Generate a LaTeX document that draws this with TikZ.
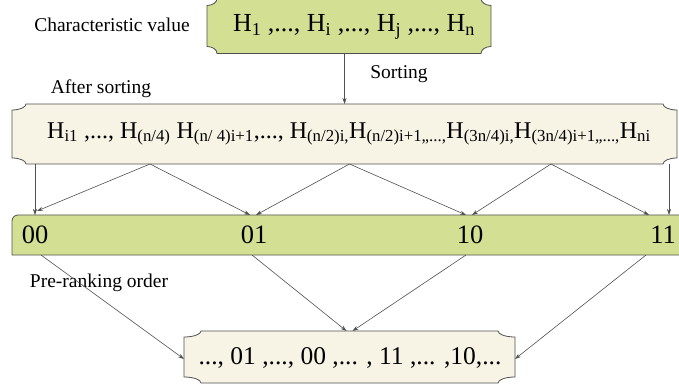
\documentclass[tikz,border=0pt]{standalone}
\usepackage{fontspec}
\setmainfont{Liberation Serif}
\usetikzlibrary{arrows.meta,calc}
\pgfdeclarelayer{bg}
\pgfsetlayers{bg,main}
\definecolor{leaf}{RGB}{211,224,148}
\definecolor{cream}{RGB}{247,243,229}
\definecolor{edge}{RGB}{80,80,80}
\newcommand\sbs[1]{\textsubscript{#1}}
% plaque outline around a node: #1 node, #2/#3 corner radii (pt), #4 fill
\newcommand\plaque[4]{%
  \path[draw=edge, fill=#4, line width=0.8pt]
    let \p1=(#1.north west), \p2=(#1.south east) in
    (\x1+#2pt,\y1) -- (\x2-#2pt,\y1)
    arc[start angle=180, end angle=270, x radius=#2pt, y radius=#3pt]
    -- (\x2,\y2+#3pt)
    arc[start angle=90, end angle=180, x radius=#2pt, y radius=#3pt]
    -- (\x1+#2pt,\y2)
    arc[start angle=0, end angle=90, x radius=#2pt, y radius=#3pt]
    -- (\x1,\y1-#3pt)
    arc[start angle=270, end angle=360, x radius=#2pt, y radius=#3pt]
    -- cycle;}
\begin{document}
\begin{tikzpicture}[x=1pt, y=1pt,
  holder/.style={inner sep=0pt, outer sep=0pt},
  label/.style={inner sep=0pt, font=\fontsize{19.5}{22}\selectfont},
  big/.style={inner sep=0pt, font=\fontsize{26}{30}\selectfont},
  row/.style={inner sep=0pt, font=\fontsize{24}{28}\selectfont},
  bits/.style={inner sep=0pt, font=\fontsize{26.5}{30}\selectfont},
  link/.style={draw=edge, line width=0.6pt, -{Stealth[length=6pt, width=4pt]}}]
\useasboundingbox (0,0) rectangle (679,-387);
\clip (0,0) rectangle (679,-387);

% boxes
\node[holder, minimum width=284pt, minimum height=55pt] (chars) at (349,-26) {};
\node[holder, minimum width=665pt, minimum height=60pt] (sorted) at (344.5,-134) {};
\node[holder, minimum width=680pt, minimum height=40pt] (bar) at (352,-235) {};
\node[holder, minimum width=331pt, minimum height=52pt] (result) at (349.5,-357) {};

% box contents
\node[big] (charstext) at (354,-27)
  {H\sbs{1} ,..., H\sbs{i} ,..., H\sbs{j} ,..., H\sbs{n}};
\node[row] (sortedtext) at (349,-134)
  {H\sbs{i1} ,..., H\sbs{(n/4)} H\sbs{(n/ 4)i+1},..., H\sbs{(n/2)i,}H\sbs{(n/2)i+1,,...,}H\sbs{(3n/4)i,}H\sbs{(3n/4)i+1,,...,}H\sbs{ni}};
\node[big, font=\fontsize{25.5}{30}\selectfont] (resulttext) at (350,-358)
  {..., 01 ,..., 00 ,... , 11 ,... ,10,...};

% bit labels in the bar
\node[bits] (b00) at (35,-235) {00};
\node[bits] (b01) at (254,-235) {01};
\node[bits] (b10) at (470,-235) {10};
\node[bits] (b11) at (663,-235) {11};

% captions
\node[label] (cv) at (112,-25) {Characteristic value};
\node[label] (srt) at (399,-74) {Sorting};
\node[label] (aft) at (101,-89) {After sorting};
\node[label] (pre) at (99,-283) {Pre-ranking order};

\begin{pgfonlayer}{bg}
  \plaque{chars}{10}{7}{leaf}
  \plaque{sorted}{14}{6}{cream}
  \plaque{result}{17}{6}{cream}
  \path[draw=edge, fill=leaf, line width=0.8pt]
    (bar.south east) -- (bar.south west) -- ([yshift=-6pt]bar.north west)
    arc[start angle=180, end angle=90, radius=6pt] -- (bar.north east);
\end{pgfonlayer}

% split points on the sorted row
\coordinate (q1) at ($(sorted.south west)!0.2075!(sorted.south east)$);
\coordinate (q2) at ($(sorted.south west)!0.5075!(sorted.south east)$);
\coordinate (q3) at ($(sorted.south west)!0.8105!(sorted.south east)$);

\draw[link] (chars.south -| sorted.north) -- (sorted.north);
\draw[link] (sorted.south -| b00) -- (b00 |- bar.north);
\draw[link] (q1) -- ([xshift=2pt, yshift=4pt]b00 |- bar.north);
\draw[link] (q1) -- ([xshift=-4pt]b01 |- bar.north);
\draw[link] (q2) -- ([xshift=2pt]b01 |- bar.north);
\draw[link] (q2) -- ([xshift=-4pt]b10 |- bar.north);
\draw[link] (q3) -- ([xshift=2pt]b10 |- bar.north);
\draw[link] (q3) -- ([xshift=-14pt]b11 |- bar.north);
\draw[link] ([xshift=-8pt]sorted.south east) -- ([xshift=-8pt]sorted.south east |- bar.north);

\draw[link] ([xshift=6pt]b00 |- bar.south) -- ([yshift=-2pt]result.west);
\draw[link] ([xshift=-2pt]b01 |- bar.south) -- ([xshift=-3pt]result.north);
\draw[link] ([xshift=-4pt]b10 |- bar.south) -- ([xshift=3pt]result.north);
\draw[link] ([xshift=-17pt]b11 |- bar.south) -- ([yshift=-2pt]result.east);
\end{tikzpicture}
\end{document}
